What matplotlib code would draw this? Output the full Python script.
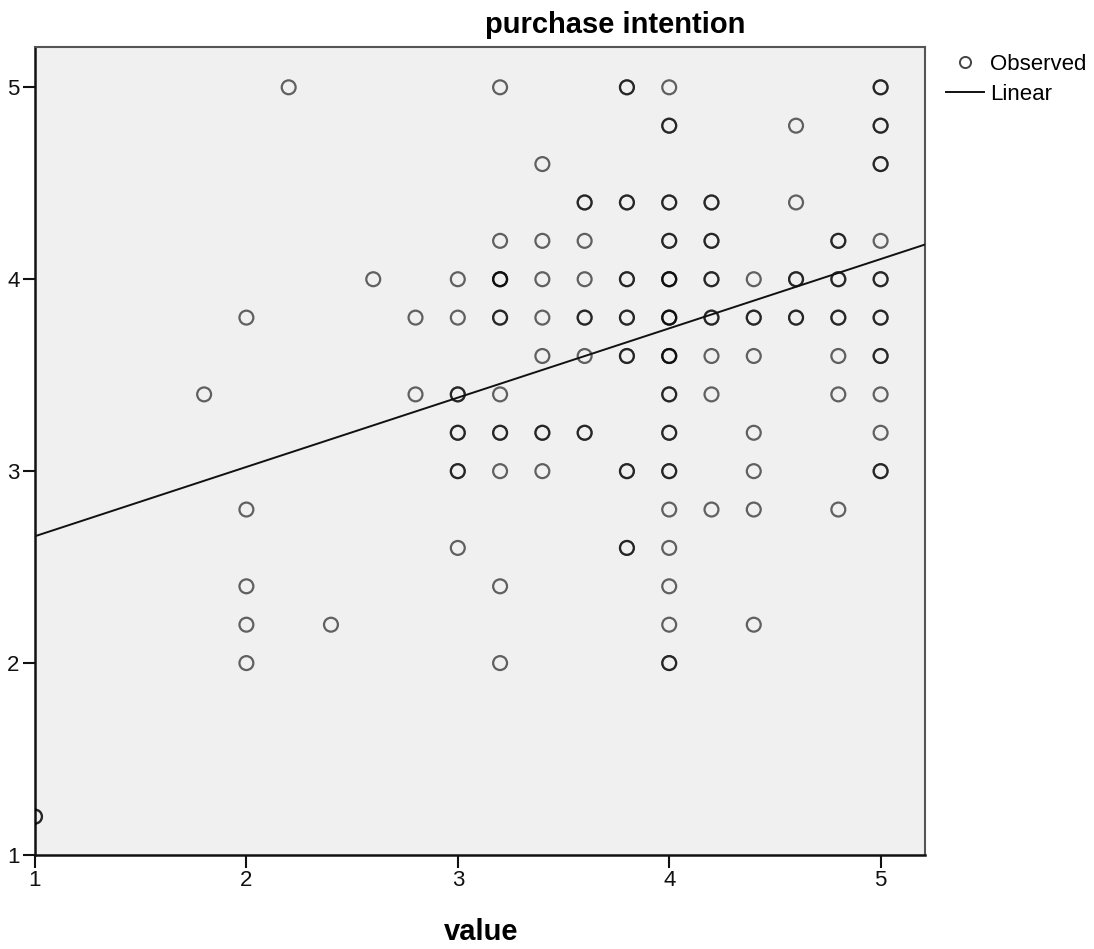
import numpy as np
import matplotlib
matplotlib.use("Agg")
import matplotlib.pyplot as plt
from matplotlib.lines import Line2D

plt.rcParams['font.family'] = ['Liberation Sans', 'DejaVu Sans']

# observed cases: value (x), purchase intention (y), number of overlapping cases
value_x = [1.0,
           1.8,
           2.0, 2.0, 2.0, 2.0, 2.0,
           2.2,
           2.4,
           2.6,
           2.8, 2.8,
           3.0, 3.0, 3.0, 3.0, 3.0, 3.0,
           3.2, 3.2, 3.2, 3.2, 3.2, 3.2, 3.2, 3.2, 3.2,
           3.4, 3.4, 3.4, 3.4, 3.4, 3.4, 3.4,
           3.6, 3.6, 3.6, 3.6, 3.6, 3.6,
           3.8, 3.8, 3.8, 3.8, 3.8, 3.8, 3.8,
           4.0, 4.0, 4.0, 4.0, 4.0, 4.0, 4.0, 4.0, 4.0, 4.0, 4.0, 4.0, 4.0, 4.0, 4.0,
           4.2, 4.2, 4.2, 4.2, 4.2, 4.2, 4.2,
           4.4, 4.4, 4.4, 4.4, 4.4, 4.4, 4.4,
           4.6, 4.6, 4.6, 4.6,
           4.8, 4.8, 4.8, 4.8, 4.8, 4.8,
           5.0, 5.0, 5.0, 5.0, 5.0, 5.0, 5.0, 5.0, 5.0, 5.0]
intention_y = [1.2,
               3.4,
               3.8, 2.8, 2.4, 2.2, 2.0,
               5.0,
               2.2,
               4.0,
               3.8, 3.4,
               4.0, 3.8, 3.4, 3.2, 3.0, 2.6,
               5.0, 4.2, 4.0, 3.8, 3.4, 3.2, 3.0, 2.4, 2.0,
               4.6, 4.2, 4.0, 3.8, 3.6, 3.2, 3.0,
               4.4, 4.2, 4.0, 3.8, 3.6, 3.2,
               5.0, 4.4, 4.0, 3.8, 3.6, 3.0, 2.6,
               5.0, 4.8, 4.4, 4.2, 4.0, 3.8, 3.6, 3.4, 3.2, 3.0, 2.8, 2.6, 2.4, 2.2, 2.0,
               4.4, 4.2, 4.0, 3.8, 3.6, 3.4, 2.8,
               4.0, 3.8, 3.6, 3.2, 3.0, 2.8, 2.2,
               4.8, 4.4, 4.0, 3.8,
               4.2, 4.0, 3.8, 3.6, 3.4, 2.8,
               5.0, 4.8, 4.6, 4.2, 4.0, 3.8, 3.6, 3.4, 3.2, 3.0]
n_cases = [2,
           1,
           1, 1, 1, 1, 1,
           1,
           1,
           1,
           1, 1,
           1, 1, 2, 2, 2, 1,
           1, 1, 3, 2, 1, 2, 1, 1, 1,
           1, 1, 1, 1, 1, 2, 1,
           2, 1, 1, 2, 1, 2,
           2, 2, 2, 2, 2, 2, 2,
           1, 2, 2, 2, 3, 3, 3, 2, 2, 2, 1, 1, 1, 1, 2,
           2, 2, 2, 2, 1, 1, 1,
           1, 2, 1, 1, 1, 1, 1,
           1, 1, 2, 2,
           2, 2, 2, 1, 1, 1,
           2, 2, 2, 1, 2, 2, 2, 1, 1, 2]

# linear fit
b0 = 2.30
b1 = 0.361

x_ticks = [1, 2, 3, 4, 5]
y_ticks = [1, 2, 3, 4, 5]

xs = np.repeat(value_x, n_cases)
ys = np.repeat(intention_y, n_cases)

fig = plt.figure(figsize=(10.94, 9.49), dpi=100)
ax = fig.add_axes([35 / 1094, 1 - 855 / 949, 890 / 1094, 808 / 949])
ax.set_facecolor('#f0f0f0')

ax.scatter(xs, ys, s=100, facecolors='none', edgecolors='black',
           linewidths=1.6, alpha=0.6, zorder=3)

line_x = np.array([1.0, 5.21])
ax.plot(line_x, b0 + b1 * line_x, color='#111111', linewidth=1.4, zorder=4)

ax.set_xlim(1, 5.21)
ax.set_ylim(1, 5.21)
ax.set_xticks(x_ticks)
ax.set_yticks(y_ticks)
ax.tick_params(direction='out', length=9, width=1.5, labelsize=16, pad=2, colors='#111111')

for side in ['left', 'bottom']:
    ax.spines[side].set_linewidth(1.8)
    ax.spines[side].set_color('#111111')
for side in ['top', 'right']:
    ax.spines[side].set_linewidth(1.5)
    ax.spines[side].set_color('#555555')

fig.text(615 / 1094, 1 - 25 / 949, 'purchase intention', ha='center', va='center',
         fontsize=21, fontweight='bold')
fig.text(481 / 1094, 1 - 932 / 949, 'value', ha='center', va='center',
         fontsize=21, fontweight='bold')

handles = [Line2D([], [], marker='o', linestyle='none', markersize=8,
                  markerfacecolor='none', markeredgecolor='#444444', markeredgewidth=1.4),
           Line2D([], [], color='#111111', linewidth=1.4)]
fig.legend(handles, ['Observed', 'Linear'], loc='upper left',
           bbox_to_anchor=(946 / 1094, 1 - 54 / 949), frameon=False,
           fontsize=16, handlelength=1.7, handletextpad=0.3,
           labelspacing=0.4, borderpad=0, borderaxespad=0)

fig.savefig('out.png', dpi=100)
